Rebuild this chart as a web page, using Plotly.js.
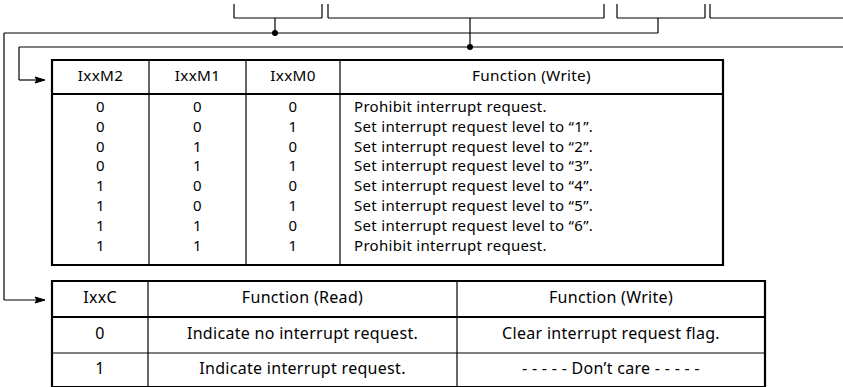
<!DOCTYPE html>
<html><head><meta charset="utf-8">
<script src="https://cdn.plot.ly/plotly-3.0.1.min.js"></script>
<style>html,body{margin:0;padding:0;background:#fff}#c{width:843px;height:387px}
#c .textpoint text{letter-spacing:0.3px}</style>
</head><body><div id="c"></div>
<script>
// ---- data ----
const modeHeaders = ["IxxM2", "IxxM1", "IxxM0", "Function (Write)"];
const modeM2 = [0, 0, 0, 0, 1, 1, 1, 1];
const modeM1 = [0, 0, 1, 1, 0, 0, 1, 1];
const modeM0 = [0, 1, 0, 1, 0, 1, 0, 1];
const modeFunctions = [
  "Prohibit interrupt request.",
  "Set interrupt request level to \u201c1\u201d.",
  "Set interrupt request level to \u201c2\u201d.",
  "Set interrupt request level to \u201c3\u201d.",
  "Set interrupt request level to \u201c4\u201d.",
  "Set interrupt request level to \u201c5\u201d.",
  "Set interrupt request level to \u201c6\u201d.",
  "Prohibit interrupt request."
];
const flagHeaders = ["IxxC", "Function (Read)", "Function (Write)"];
const flagValues = [0, 1];
const flagRead = ["Indicate no interrupt request.", "Indicate interrupt request."];
const flagWrite = ["Clear interrupt request flag.", "- - - - - Don\u2019t care - - - - -"];

// ---- layout geometry ----
const INK = "#000000";
const FONT = "Noto Sans";
const T1 = {x: [52, 149, 246, 340, 723], top: 60, head: 94, bottom: 265, row0: 108, pitch: 19.9, textX: 354};
const T2 = {x: [52, 148, 457, 765], top: 281, head: 317, mid: 353, bottom: 387};

const shapes = [];
function line(x0, y0, x1, y1, w) {
  shapes.push({type: "line", xref: "x", yref: "y", x0, y0, x1, y1, line: {color: INK, width: w || 1.2}});
}
function rect(x0, y0, x1, y1, w) {
  shapes.push({type: "rect", xref: "x", yref: "y", x0, y0, x1, y1, line: {color: INK, width: w}, fillcolor: "rgba(0,0,0,0)"});
}
function dot(x, y) {
  shapes.push({type: "circle", xref: "x", yref: "y", x0: x - 3, y0: y - 3, x1: x + 3, y1: y + 3, line: {color: INK, width: 0}, fillcolor: INK});
}
function arrow(x, y) {
  shapes.push({type: "path", xref: "x", yref: "y", path: `M ${x} ${y} L ${x - 10} ${y - 3} L ${x - 8} ${y} L ${x - 10} ${y + 3} Z`, line: {color: INK, width: 1}, fillcolor: INK});
}

// top brackets
const brTop = 4, brBot = 18;
[[234, 322], [328, 604], [617, 705]].forEach(([a, b]) => {
  line(a, brTop, a, brBot); line(a, brBot, b, brBot); line(b, brTop, b, brBot);
});
line(710, brTop, 710, brBot); line(710, brBot, 843, brBot);
// connection lines
line(275, brBot, 275, 33); line(658, brBot, 658, 33); line(4, 33, 658, 33); dot(275, 33);
line(470, brBot, 470, 47); line(19, 47, 843, 47); dot(470, 47);
line(19, 47, 19, 80); line(19, 80, 43, 80); arrow(45, 80);
line(4, 33, 4, 300); line(4, 300, 43, 300); arrow(45, 300);

// table 1
rect(T1.x[0], T1.top, T1.x[4], T1.bottom, 2.2);
line(T1.x[0], T1.head, T1.x[4], T1.head, 2.2);
for (let i = 1; i < 4; i++) line(T1.x[i], T1.top, T1.x[i], T1.bottom, 1.2);
// table 2
rect(T2.x[0], T2.top, T2.x[3], T2.bottom, 2.2);
line(T2.x[0], T2.head, T2.x[3], T2.head, 2.2);
line(T2.x[0], T2.mid, T2.x[3], T2.mid, 1.2);
for (let i = 1; i < 3; i++) line(T2.x[i], T2.top, T2.x[i], T2.bottom, 1.2);

// ---- text traces ----
const traces = [];
function txt(xs, ys, texts, pos, size) {
  traces.push({type: "scatter", mode: "text", x: xs, y: ys, text: texts, textposition: pos,
    textfont: {family: FONT, size: size, color: INK}, hoverinfo: "skip", showlegend: false, cliponaxis: false});
}
const mid = (a, b) => (a + b) / 2;
const headY1 = mid(T1.top, T1.head);
txt(modeHeaders.map((h, i) => mid(T1.x[i], T1.x[i + 1])), modeHeaders.map(() => headY1), modeHeaders, "middle center", 15.3);
const rowsY = modeM2.map((v, i) => T1.row0 + i * T1.pitch);
[modeM2, modeM1, modeM0].forEach((col, c) => {
  txt(col.map(() => mid(T1.x[c], T1.x[c + 1])), rowsY, col.map(String), "middle center", 15);
});
txt(modeFunctions.map(() => T1.textX), rowsY, modeFunctions, "middle right", 15);

const headY2 = mid(T2.top, T2.head);
txt(flagHeaders.map((h, i) => mid(T2.x[i], T2.x[i + 1])), flagHeaders.map(() => headY2), flagHeaders, "middle center", 16);
const rowsY2 = [mid(T2.head, T2.mid), mid(T2.mid, T2.bottom)];
txt(flagValues.map(() => mid(T2.x[0], T2.x[1])), rowsY2, flagValues.map(String), "middle center", 16);
txt(flagRead.map(() => mid(T2.x[1], T2.x[2])), rowsY2, flagRead, "middle center", 16);
txt(flagWrite.map(() => mid(T2.x[2], T2.x[3])), rowsY2, flagWrite, "middle center", 16);

Plotly.newPlot("c", traces, {
  width: 843, height: 387,
  margin: {l: 0, r: 0, t: 0, b: 0, pad: 0},
  paper_bgcolor: "#fff", plot_bgcolor: "#fff",
  xaxis: {range: [0, 843], visible: false, fixedrange: true},
  yaxis: {range: [387, 0], visible: false, fixedrange: true},
  shapes: shapes,
  showlegend: false
}, {staticPlot: true, displayModeBar: false});
</script></body></html>
